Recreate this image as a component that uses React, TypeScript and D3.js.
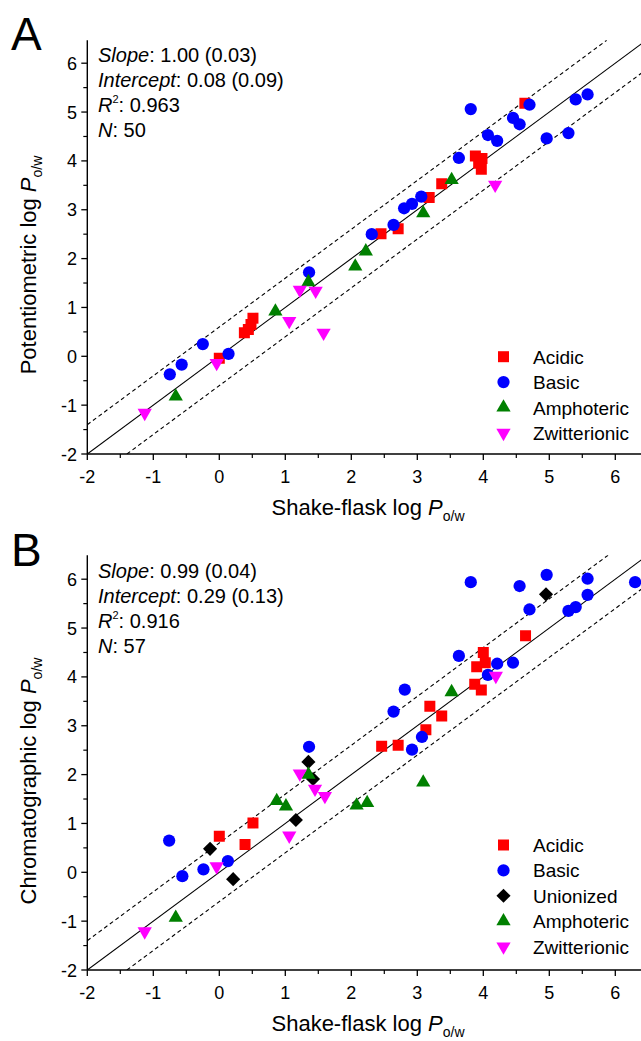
import React from "react";
import * as d3 from "d3";

// ---------- data ----------
const xTicks = [-2, -1, 0, 1, 2, 3, 4, 5, 6];
const yTicks = [-2, -1, 0, 1, 2, 3, 4, 5, 6];
const minorTicks = [-1.5, -0.5, 0.5, 1.5, 2.5, 3.5, 4.5, 5.5];

const acidicA = [[4.63,5.18],[3.88,4.10],[3.98,4.05],[3.93,3.95],[3.97,3.83],[3.37,3.53],[3.18,3.25],[2.71,2.61],[2.45,2.51],[0.51,0.78],[0.48,0.65],[0.44,0.55],[0.38,0.48],[0.0,-0.04]];
const basicA = [[5.58,5.36],[5.40,5.26],[4.70,5.15],[3.81,5.06],[4.45,4.88],[4.55,4.75],[4.07,4.53],[4.21,4.41],[4.96,4.46],[5.29,4.57],[3.63,4.06],[3.06,3.27],[2.92,3.12],[2.80,3.03],[2.64,2.69],[2.31,2.50],[1.36,1.72],[0.14,0.05],[-0.25,0.25],[-0.57,-0.17],[-0.75,-0.37]];
const amphotericA = [[3.52,3.61],[3.09,2.93],[2.22,2.15],[2.06,1.84],[1.35,1.52],[0.85,0.92],[-0.66,-0.82]];
const zwitterionicA = [[4.18,3.51],[1.22,1.36],[1.46,1.34],[1.06,0.72],[1.58,0.48],[-0.04,-0.14],[-1.13,-1.16]];

const acidicB = [[4.64,4.84],[4.00,4.50],[4.03,4.29],[3.90,4.21],[3.87,3.85],[3.97,3.73],[3.19,3.40],[3.37,3.20],[3.13,2.92],[2.46,2.58],[2.71,2.60],[0.51,1.01],[0.00,0.74],[0.39,0.57]];
const basicB = [[3.81,5.94],[4.55,5.86],[4.96,6.09],[5.58,6.01],[5.58,5.68],[6.30,5.94],[4.70,5.38],[5.29,5.35],[5.40,5.43],[3.63,4.43],[4.21,4.27],[4.45,4.29],[4.07,4.04],[2.81,3.74],[2.64,3.29],[3.07,2.77],[2.92,2.51],[1.36,2.57],[-0.76,0.65],[0.13,0.23],[-0.24,0.06],[-0.56,-0.08]];
const unionizedB = [[4.95,5.69],[1.35,2.26],[1.42,1.91],[1.16,1.07],[-0.14,0.48],[0.21,-0.14]];
const amphotericB = [[3.52,3.69],[3.09,1.84],[1.35,2.00],[0.87,1.46],[1.01,1.35],[2.08,1.37],[2.24,1.42],[-0.66,-0.93]];
const zwitterionicB = [[4.19,4.02],[1.22,2.02],[1.45,1.71],[1.60,1.56],[1.06,0.75],[-0.04,0.12],[-1.13,-1.21]];

const statsA = { slope: "1.00 (0.03)", intercept: "0.08 (0.09)", r2: "0.963", n: "50" };
const statsB = { slope: "0.99 (0.04)", intercept: "0.29 (0.13)", r2: "0.916", n: "57" };

const bandOffset = 0.6;
const xDomain = [-2, 6.4];

const FONT = "'Liberation Sans', Arial, Helvetica, sans-serif";

const COLORS: Record<string, string> = {
  Acidic: "#ff0000",
  Basic: "#0000ff",
  Unionized: "#000000",
  Amphoteric: "#008000",
  Zwitterionic: "#ff00ff",
};

function markerPath(kind: string): { d: string; rot: number } {
  if (kind === "Acidic") return { d: d3.symbol(d3.symbolSquare, 121)() as string, rot: 0 };
  if (kind === "Basic") return { d: d3.symbol(d3.symbolCircle, 118)() as string, rot: 0 };
  if (kind === "Unionized") return { d: d3.symbol(d3.symbolSquare, 100)() as string, rot: 45 };
  if (kind === "Amphoteric") return { d: d3.symbol(d3.symbolTriangle, 88)() as string, rot: 0 };
  return { d: d3.symbol(d3.symbolTriangle, 88)() as string, rot: 180 };
}

type Series = { name: string; data: number[][] };

function Panel(props: {
  letter: string;
  yTitle: string;
  y0: number; // pixel of y=-2
  yMax: number;
  series: Series[];
  stats: typeof statsA;
  legendY: number;
  yTitleCenter: number;
}) {
  const { letter, yTitle, y0, yMax, series, stats, legendY, yTitleCenter } = props;
  const unitY = 48.85;
  const x = d3.scaleLinear().domain(xDomain).range([87.3, 87.3 + 66 * (xDomain[1] - xDomain[0])]);
  const y = d3.scaleLinear().domain([-2, yMax]).range([y0, y0 - unitY * (yMax + 2)]);
  const top = y(yMax);
  const clipId = "clip" + letter;
  const line = d3.line<number[]>().x((d) => x(d[0])).y((d) => y(d[1]));
  const xs = [xDomain[0], xDomain[1]];
  const solid = xs.map((v) => [v, v]);
  const upper = [[-2, -2 + bandOffset], [yMax - bandOffset, yMax]];
  const lower = [[-2 + bandOffset, -2], [xDomain[1], xDomain[1] - bandOffset]];

  const drawOrder = ["Acidic", "Basic", "Unionized", "Amphoteric", "Zwitterionic"];
  const ordered = drawOrder
    .map((n) => series.find((s) => s.name === n))
    .filter((s) => !!s) as Series[];

  return (
    <g>
      <defs>
        <clipPath id={clipId}>
          <rect x={x(-2)} y={top} width={x(xDomain[1]) - x(-2)} height={y0 - top} />
        </clipPath>
      </defs>
      {/* letter */}
      <text x={11} y={y0 - 404} fontSize={46} fontFamily={FONT} fill="#000">
        {letter}
      </text>
      {/* reference lines */}
      <g clipPath={`url(#${clipId})`}>
        <path d={line(solid) as string} stroke="#000" strokeWidth={1.1} fill="none" />
        <path d={line(upper) as string} stroke="#000" strokeWidth={1.1} fill="none" strokeDasharray="4,3" />
        <path d={line(lower) as string} stroke="#000" strokeWidth={1.1} fill="none" strokeDasharray="4,3" />
      </g>
      {/* axes */}
      <line x1={x(-2)} x2={x(xDomain[1])} y1={y0} y2={y0} stroke="#000" strokeWidth={1.4} />
      <line x1={x(-2)} x2={x(-2)} y1={y0} y2={top} stroke="#000" strokeWidth={1.4} />
      {xTicks.map((t) => (
        <g key={"xt" + t}>
          <line x1={x(t)} x2={x(t)} y1={y0} y2={y0 + 6} stroke="#000" strokeWidth={1.3} />
          <text x={x(t)} y={y0 + 29} textAnchor="middle" fontSize={18} fontFamily={FONT}>
            {t}
          </text>
        </g>
      ))}
      {minorTicks.map((t) => (
        <line key={"xm" + t} x1={x(t)} x2={x(t)} y1={y0} y2={y0 + 4} stroke="#000" strokeWidth={1.2} />
      ))}
      {yTicks.map((t) => (
        <g key={"yt" + t}>
          <line x1={x(-2)} x2={x(-2) - 6} y1={y(t)} y2={y(t)} stroke="#000" strokeWidth={1.3} />
          <text x={77} y={y(t) + 6.5} textAnchor="end" fontSize={18} fontFamily={FONT}>
            {t}
          </text>
        </g>
      ))}
      {minorTicks.map((t) => (
        <line key={"ym" + t} x1={x(-2)} x2={x(-2) - 4} y1={y(t)} y2={y(t)} stroke="#000" strokeWidth={1.2} />
      ))}
      {/* axis titles */}
      <text x={368} y={y0 + 61} textAnchor="middle" fontSize={22} fontFamily={FONT}>
        <tspan>Shake-flask log </tspan>
        <tspan fontStyle="italic">P</tspan>
        <tspan fontSize={14} dy={6}>o/w</tspan>
      </text>
      <text
        transform={`translate(36,${yTitleCenter}) rotate(-90)`}
        textAnchor="middle"
        fontSize={22}
        fontFamily={FONT}
      >
        <tspan>{yTitle} log </tspan>
        <tspan fontStyle="italic">P</tspan>
        <tspan fontSize={14} dy={6}>o/w</tspan>
      </text>
      {/* stats */}
      <g fontFamily={FONT} fontSize={20}>
        <text x={98} y={y0 - 392}>
          <tspan fontStyle="italic">Slope</tspan>: {stats.slope}
        </text>
        <text x={98} y={y0 - 367}>
          <tspan fontStyle="italic">Intercept</tspan>: {stats.intercept}
        </text>
        <text x={98} y={y0 - 342}>
          <tspan fontStyle="italic">R</tspan>
          <tspan fontSize={11} dy={-9}>2</tspan>
          <tspan dy={9}>: {stats.r2}</tspan>
        </text>
        <text x={98} y={y0 - 317}>
          <tspan fontStyle="italic">N</tspan>: {stats.n}
        </text>
      </g>
      {/* points */}
      <g clipPath={`url(#${clipId})`}>
        {ordered.map((s) => {
          const m = markerPath(s.name);
          return (
            <g key={s.name}>
              {s.data.map((d, i) => (
                <path
                  key={i}
                  d={m.d}
                  fill={COLORS[s.name]}
                  transform={`translate(${x(d[0])},${y(d[1])}) rotate(${m.rot})`}
                />
              ))}
            </g>
          );
        })}
      </g>
      {/* legend */}
      <g fontFamily={FONT} fontSize={19}>
        {series.map((s, i) => {
          const m = markerPath(s.name);
          const cy = legendY + i * 25.4;
          return (
            <g key={"lg" + s.name}>
              <path d={m.d} fill={COLORS[s.name]} transform={`translate(503.5,${cy}) rotate(${m.rot})`} />
              <text x={533} y={cy + 7}>
                {s.name}
              </text>
            </g>
          );
        })}
      </g>
    </g>
  );
}

export default function App() {
  const seriesA: Series[] = [
    { name: "Acidic", data: acidicA },
    { name: "Basic", data: basicA },
    { name: "Amphoteric", data: amphotericA },
    { name: "Zwitterionic", data: zwitterionicA },
  ];
  const seriesB: Series[] = [
    { name: "Acidic", data: acidicB },
    { name: "Basic", data: basicB },
    { name: "Unionized", data: unionizedB },
    { name: "Amphoteric", data: amphotericB },
    { name: "Zwitterionic", data: zwitterionicB },
  ];
  return (
    <svg
      width={641}
      height={1041}
      style={{ position: "absolute", left: 0, top: 0, background: "#fff" }}
    >
      <rect x={0} y={0} width={641} height={1041} fill="#fff" />
      <Panel
        letter="A"
        yTitle="Potentiometric"
        y0={454}
        yMax={6.47}
        series={seriesA}
        stats={statsA}
        legendY={356.7}
        yTitleCenter={265}
      />
      <Panel
        letter="B"
        yTitle="Chromatographic"
        y0={970}
        yMax={6.49}
        series={seriesB}
        stats={statsB}
        legendY={845}
        yTitleCenter={781}
      />
    </svg>
  );
}
